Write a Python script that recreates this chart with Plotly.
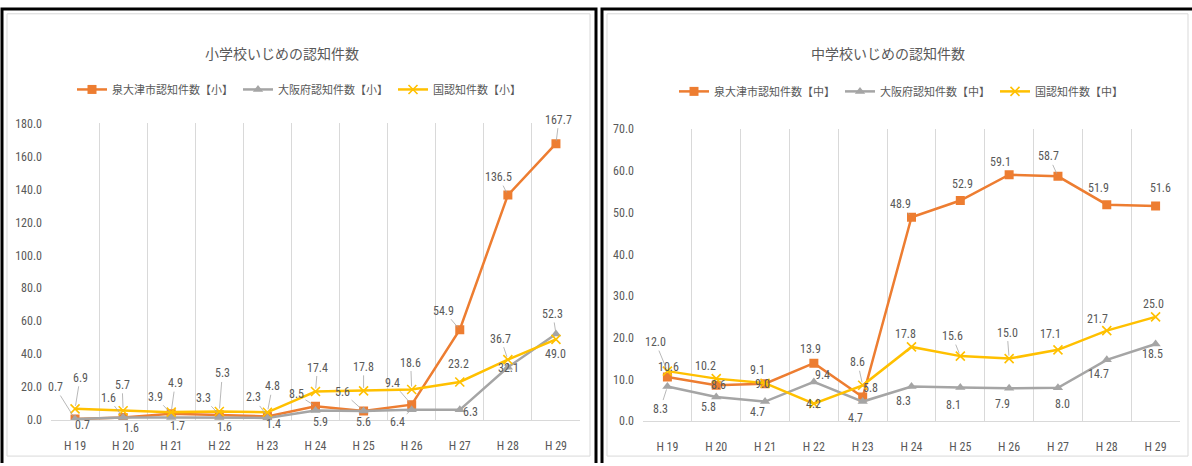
import plotly.graph_objects as go

W, H = 1192, 466

# Fiscal years (Heisei)
years = ["H19", "H20", "H21", "H22", "H23", "H24", "H25", "H26", "H27", "H28", "H29"]
year_labels = ["H 19", "H 20", "H 21", "H 22", "H 23", "H 24", "H 25", "H 26", "H 27", "H 28", "H 29"]

# Elementary school: bullying cases recognised (per 1,000 pupils)
elem_city = [0.7, 1.6, 3.9, 3.3, 2.3, 8.5, 5.6, 9.4, 54.9, 136.5, 167.7]
elem_pref = [0.7, 1.6, 1.7, 1.6, 1.4, 5.9, 5.6, 6.4, 6.3, 32.1, 52.3]
elem_nat = [6.9, 5.7, 4.9, 5.3, 4.8, 17.4, 17.8, 18.6, 23.2, 36.7, 49.0]

# Junior high school
jhs_city = [10.6, 8.6, 9.0, 13.9, 5.8, 48.9, 52.9, 59.1, 58.7, 51.9, 51.6]
jhs_pref = [8.3, 5.8, 4.7, 9.4, 4.7, 8.3, 8.1, 7.9, 8.0, 14.7, 18.5]
jhs_nat = [12.0, 10.2, 9.1, 4.2, 8.6, 17.8, 15.6, 15.0, 17.1, 21.7, 25.0]

elem_names = ["泉大津市認知件数【小】", "大阪府認知件数【小】", "国認知件数【小】"]
jhs_names = ["泉大津市認知件数【中】", "大阪府認知件数【中】", "国認知件数【中】"]
titles = ["小学校いじめの認知件数", "中学校いじめの認知件数"]

# Data-label offsets in pixels (dx, dy, leader line)
elem_city_off = [(-20, -32, 1), (-15, -20, 1), (-16, -17, 1), (-16, -17, 1), (-14, -19, 1), (-19, -12, 1),
                 (-21, -19, 1), (-19, -22, 1), (-16, -19, 1), (-9, -18, 1), (3, -24, 1)]
elem_pref_off = [(7, 6, 0), (8, 10, 0), (6, 9, 0), (5, 9, 0), (6, 6, 0), (5, 12, 0),
                 (0, 11, 0), (-14, 12, 1), (11, 2, 0), (1, 1, 0), (-3, -20, 1)]
elem_nat_off = [(5, -31, 1), (-1, -26, 1), (4, -29, 1), (3, -38, 1), (5, -26, 1), (2, -24, 1),
                (0, -24, 1), (-1, -27, 1), (-1, -18, 0), (-7, -21, 1), (0, 15, 0)]
jhs_city_off = [(1, -10, 0), (2, 0, 0), (-3, 0, 0), (-3, -14, 0), (8, -9, 0), (-11, -13, 1),
                (2, -17, 0), (-9, -13, 0), (-9, -20, 1), (-8, -17, 0), (5, -18, 0)]
jhs_pref_off = [(-7, 22, 1), (-8, 10, 0), (-8, 10, 0), (9, -7, 0), (-7, 16, 0), (-8, 14, 0),
                (-7, 18, 0), (-7, 16, 0), (5, 16, 0), (-8, 14, 0), (-3, 10, 0)]
jhs_nat_off = [(-12, -29, 1), (-11, -13, 0), (-8, -13, 0), (0, 0, 0), (-5, -23, 1), (-6, -13, 0),
               (-8, -20, 1), (-2, -26, 1), (-7, -16, 0), (-9, -12, 0), (-2, -13, 0)]

ORANGE, GRAY, GOLD = "#ED7D31", "#A5A5A5", "#FFC000"
TEXT = "#595959"
GRID = "#D9D9D9"
NUM_FONT = "Liberation Sans Narrow, Arial Narrow, Roboto Condensed, Liberation Sans, sans-serif"
CJK_FONT = "Noto Sans CJK JP, Noto Sans CJK SC, sans-serif"

styles = [
    dict(color=ORANGE, symbol="square", size=9, mline=0),
    dict(color=GRAY, symbol="triangle-up", size=9, mline=0),
    dict(color=GOLD, symbol="x-thin", size=9, mline=1.6),
]


def px_x(x):
    return x / W


def px_y(y):
    return 1 - y / H


fig = go.Figure()
annotations = []

panels = [
    dict(xa="x", ya="y", legend="legend", names=elem_names,
         series=[elem_city, elem_pref, elem_nat],
         offs=[elem_city_off, elem_pref_off, elem_nat_off]),
    dict(xa="x2", ya="y2", legend="legend2", names=jhs_names,
         series=[jhs_city, jhs_pref, jhs_nat],
         offs=[jhs_city_off, jhs_pref_off, jhs_nat_off]),
]

for p in panels:
    for vals, name, st in zip(p["series"], p["names"], styles):
        fig.add_trace(go.Scatter(
            x=years, y=vals, name=name, mode="lines+markers",
            xaxis=p["xa"], yaxis=p["ya"], legend=p["legend"],
            line=dict(color=st["color"], width=2.5),
            marker=dict(symbol=st["symbol"], size=st["size"], color=st["color"],
                        line=dict(color=st["color"], width=st["mline"])),
            hoverinfo="skip",
        ))
    for vals, offs in zip(p["series"], p["offs"]):
        for yr, v, (dx, dy, lead) in zip(years, vals, offs):
            annotations.append(dict(
                x=yr, y=v, xref=p["xa"], yref=p["ya"], text=f"{v:.1f}",
                showarrow=True, ax=dx, ay=dy, arrowhead=0, arrowwidth=0.8,
                arrowcolor="#A6A6A6" if lead else "rgba(0,0,0,0)", standoff=3,
                font=dict(family=NUM_FONT, size=12, color=TEXT),
            ))

# Chart titles
for title, cx, cy in [(titles[0], 282, 47), (titles[1], 888, 47)]:
    annotations.append(dict(text=title, x=px_x(cx), y=px_y(cy), xref="paper", yref="paper",
                            xanchor="center", yanchor="middle", showarrow=False,
                            font=dict(family=CJK_FONT, size=14, color=TEXT)))

xaxis_common = dict(
    type="category", categoryorder="array", categoryarray=years,
    tickvals=years, ticktext=year_labels, range=[-0.5, 10.5],
    tickson="boundaries", showgrid=True, gridcolor=GRID, gridwidth=1,
    ticks="", showline=True, linecolor=GRID, linewidth=1, zeroline=False,
    tickfont=dict(family=NUM_FONT, size=12, color=TEXT), ticklabelstandoff=14,
    fixedrange=True,
)
yaxis_common = dict(
    showgrid=False, zeroline=False, showline=False, ticks="", tickformat=".1f",
    tickfont=dict(family=NUM_FONT, size=12, color=TEXT), ticklabelstandoff=8,
    fixedrange=True,
)

legend_common = dict(
    orientation="h", yanchor="middle", xanchor="left", bgcolor="rgba(0,0,0,0)",
    font=dict(family=CJK_FONT, size=11, color=TEXT), itemclick=False, itemdoubleclick=False,
)

shapes = [
    # light chart-area frames
    dict(type="rect", xref="paper", yref="paper", x0=px_x(7), x1=px_x(590), y0=px_y(463), y1=px_y(7),
         line=dict(color=GRID, width=1)),
    dict(type="rect", xref="paper", yref="paper", x0=px_x(607), x1=px_x(1188), y0=px_y(463), y1=px_y(7),
         line=dict(color=GRID, width=1)),
    # black table frames
    dict(type="path", xref="paper", yref="paper",
         path=f"M {px_x(2)},{px_y(470)} L {px_x(2)},{px_y(2)} L {px_x(596)},{px_y(2)} L {px_x(596)},{px_y(470)}",
         line=dict(color="black", width=3)),
    dict(type="path", xref="paper", yref="paper",
         path=f"M {px_x(602)},{px_y(470)} L {px_x(602)},{px_y(2)} L {px_x(1195)},{px_y(2)}",
         line=dict(color="black", width=3)),
]

fig.update_layout(
    width=W, height=H, margin=dict(l=0, r=0, t=0, b=0),
    paper_bgcolor="white", plot_bgcolor="white",
    xaxis=dict(xaxis_common, domain=[px_x(51), px_x(580)], anchor="y"),
    yaxis=dict(yaxis_common, domain=[px_y(426), px_y(120)], range=[0, 180], dtick=20, anchor="x"),
    xaxis2=dict(xaxis_common, domain=[px_x(643), px_x(1180)], anchor="y2"),
    yaxis2=dict(yaxis_common, domain=[px_y(427), px_y(126)], range=[0, 70], dtick=10, anchor="x2"),
    legend=dict(legend_common, x=px_x(72), y=px_y(85)),
    legend2=dict(legend_common, x=px_x(674), y=px_y(87)),
    annotations=annotations,
    shapes=shapes,
    showlegend=True,
)

fig.write_html("out.html")
